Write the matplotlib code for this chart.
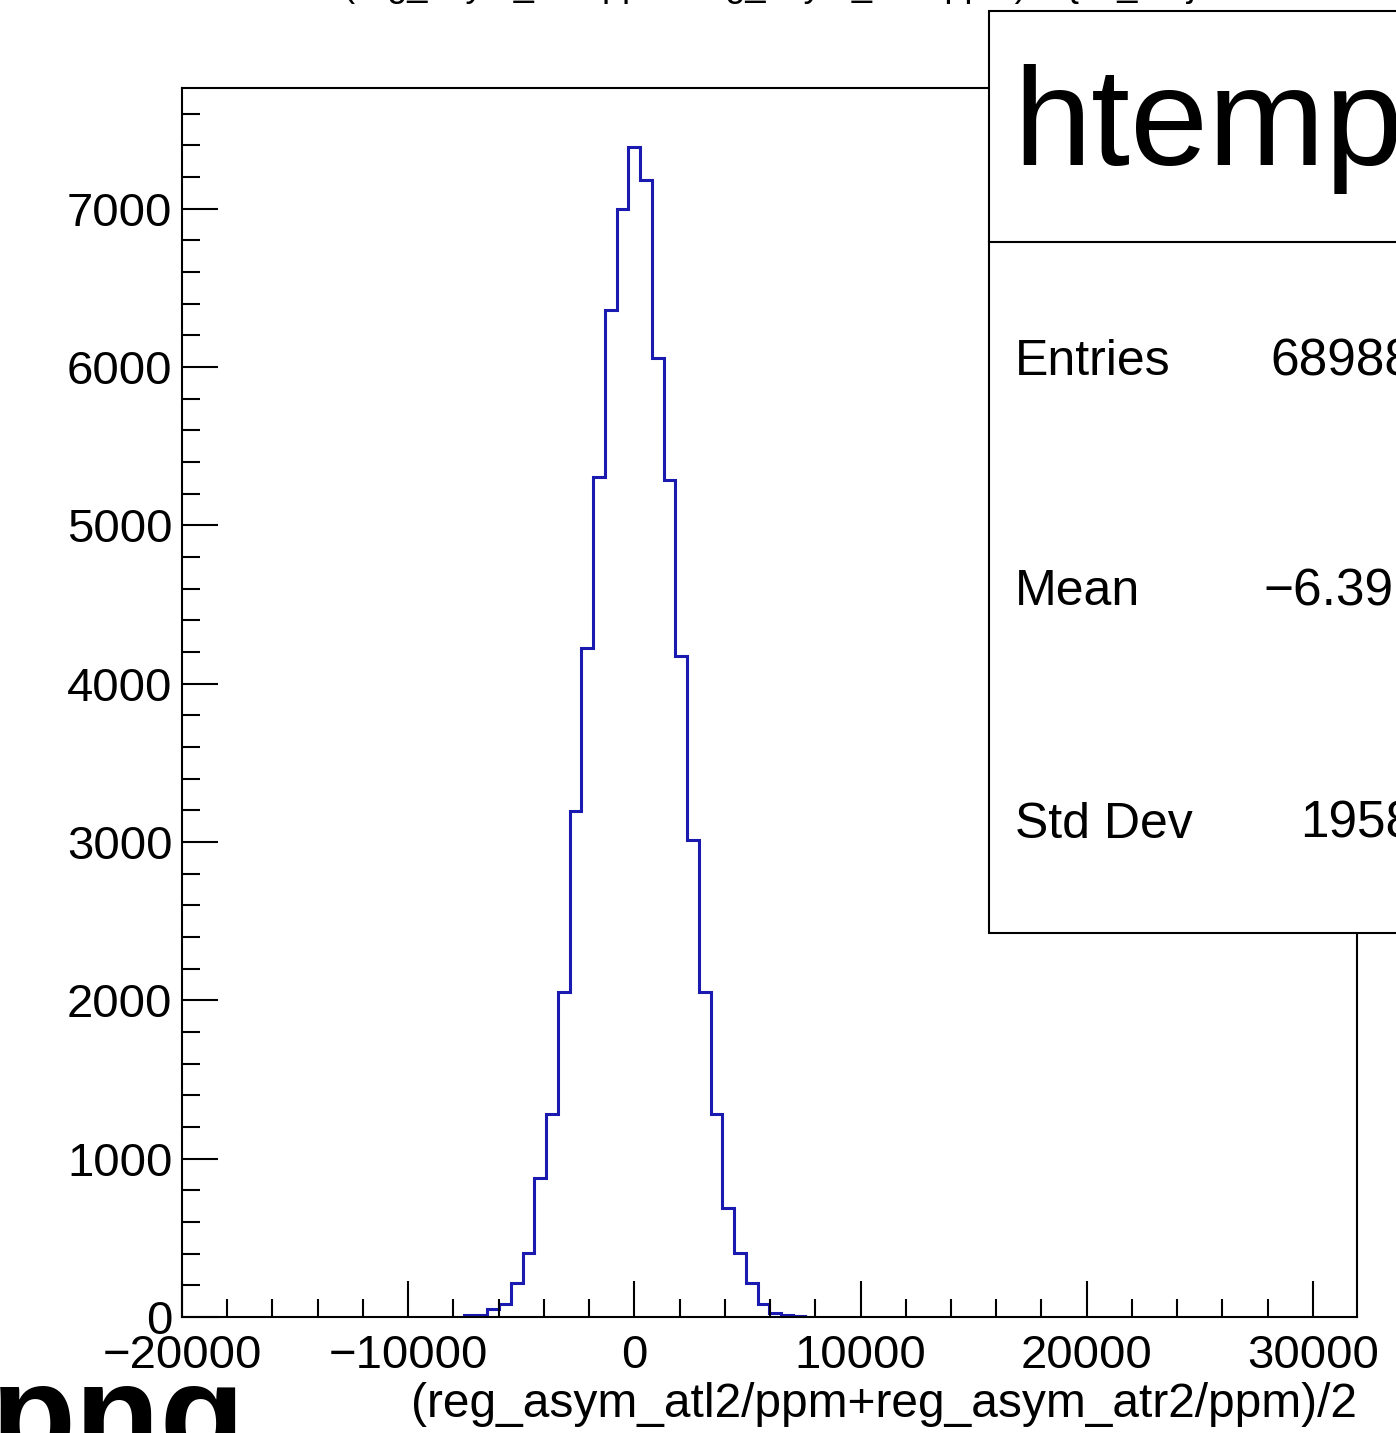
import matplotlib
matplotlib.use('Agg')
import numpy as np
import matplotlib.pyplot as plt
from matplotlib.patches import Rectangle
from matplotlib.lines import Line2D
from matplotlib.ticker import MultipleLocator

plt.rcParams['font.family'] = ['Liberation Sans', 'DejaVu Sans']

W, H = 1396, 1433

# histogram as ROOT made it: 100 bins between XMIN and XMAX
XMIN = -20000.0
XMAX = 31950.0
NBINS = 100
FIRST_BIN = 24
counts = [10, 13, 48, 80, 217, 402, 876, 1280, 2054, 3196, 4225, 5305, 6362,
          7000, 7393, 7184, 6056, 5284, 4173, 3011, 2054, 1280, 686, 402,
          217, 80, 23, 10, 8]

title = '(reg_asym_atl2/ppm+reg_asym_atr2/ppm)/2 {ok_cut}'
xlabel = '(reg_asym_atl2/ppm+reg_asym_atr2/ppm)/2'
stat_names = ['Entries', 'Mean', 'Std Dev']
stat_values = ['68988', '\u22126.391', '1958']


def fx(px):
    return px / W


def fy(py):
    return 1 - py / H


fig = plt.figure(figsize=(W / 100, H / 100), dpi=100)
ax = fig.add_axes([fx(182), fy(1317), fx(1357) - fx(182), fy(88) - fy(1317)])

width = (XMAX - XMIN) / NBINS
edges = XMIN + width * np.arange(FIRST_BIN, FIRST_BIN + len(counts) + 1)
ax.stairs(counts, edges, color='#1a1ab0', lw=2.2)

ax.set_xlim(XMIN, XMAX)
ax.set_ylim(0, max(counts) * 1.05)
ax.xaxis.set_major_locator(MultipleLocator(10000))
ax.xaxis.set_minor_locator(MultipleLocator(2000))
ax.yaxis.set_major_locator(MultipleLocator(1000))
ax.yaxis.set_minor_locator(MultipleLocator(200))
ax.tick_params(which='both', direction='in', width=1.5, labelsize=34,
               top=False, right=False)
ax.tick_params(which='major', length=26)
ax.tick_params(which='minor', length=13)
ax.tick_params(axis='y', pad=7)
ax.tick_params(axis='x', pad=12)
for s in ax.spines.values():
    s.set_linewidth(1.5)

ax.set_xlabel(xlabel, fontsize=34.5, loc='right', labelpad=3)

# title, mostly cut by the top edge
fig.text(fx(770), fy(-4), title, fontsize=26, ha='center', va='baseline')

# stats box
fig.add_artist(Rectangle((fx(989), fy(933)), fx(1500) - fx(989), fy(11) - fy(933),
                         transform=fig.transFigure, facecolor='white',
                         edgecolor='black', lw=1.5, zorder=5))
fig.add_artist(Line2D([fx(989), fx(1500)], [fy(242), fy(242)],
                      transform=fig.transFigure, color='black', lw=1.5, zorder=6))
fig.text(fx(1013), fy(165), 'htemp', fontsize=101, ha='left', va='baseline', zorder=7)
rows_y = [375, 605, 838]
vals_x = [1270, 1263, 1300]
for name, val, y, vx in zip(stat_names, stat_values, rows_y, vals_x):
    fig.text(fx(1015), fy(y), name, fontsize=36, ha='left', va='baseline', zorder=7)
    fig.text(fx(vx), fy(y), val, fontsize=37, ha='left', va='baseline', zorder=7)

# file name, cut at the bottom
fig.text(fx(245), fy(1461), 'png', fontsize=100, fontweight='bold',
         ha='right', va='baseline')

fig.savefig('out.png', dpi=100)
